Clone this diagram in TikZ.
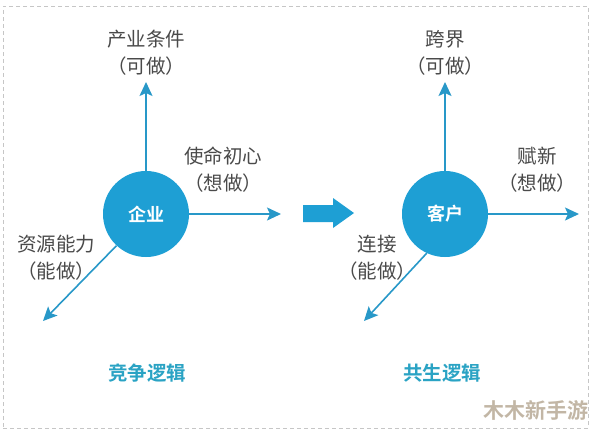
\documentclass[tikz,border=0pt]{standalone}
\usepackage{fontspec}
\setmainfont{Noto Sans CJK SC}
\newfontfamily\cjkb{Noto Sans CJK SC Bold}
\usetikzlibrary{arrows.meta}
\definecolor{hubblue}{HTML}{1E9FD4}
\definecolor{axisblue}{HTML}{2898C8}
\definecolor{labelgray}{HTML}{4A4A4A}
\definecolor{titleblue}{HTML}{2AA3C4}
\definecolor{wmark}{HTML}{B8AA96}
\tikzset{
  hub/.style={circle,fill=hubblue,minimum size=86pt,inner sep=0pt,text=white,font=\cjkb\fontsize{18}{18}\selectfont},
  axis/.style={draw=axisblue,line width=1.6pt,-{Stealth[length=14pt,width=13pt,inset=3pt]}},
  lbl/.style={text=labelgray,font=\fontsize{19.5}{27}\selectfont,align=center,inner sep=0pt},
  ttl/.style={text=titleblue,font=\cjkb\fontsize{19.5}{19.5}\selectfont,inner sep=0pt},
  frame/.style={draw=gray!45,line width=1pt,dash pattern=on 4pt off 3pt},
  blockarrow/.style={fill=hubblue,draw=none}
}
\begin{document}
\begin{tikzpicture}[x=1pt,y=-1pt]
\useasboundingbox (0,0) rectangle (594,432);
\fill[white] (0,0) rectangle (594,432);
\node[frame,minimum width=585pt,minimum height=422pt,inner sep=0pt] (border) at (295.5,217) {};

% left
\node[hub] (qiye) at (146,214) {企业};
\coordinate (q-up) at (146,82);
\coordinate (q-right) at (281,214);
\coordinate (q-dl) at (43,321);
\draw[axis] (qiye.north) -- (q-up);
\draw[axis] (qiye.east) -- (q-right);
\draw[axis] (qiye.-133) -- (q-dl);
\node[lbl] (l1) at (146,53) {产业条件\\（可做）};
\node[lbl] (l2) at (223,170) {使命初心\\（想做）};
\node[lbl] (l3) at (56,258) {资源能力\\（能做）};
\node[ttl] (t1) at (147,373) {竞争逻辑};

% middle block arrow
\path[blockarrow] (303,205) -- (333,205) -- (333,198) -- (354,213) -- (333,228) -- (333,222) -- (303,222) -- cycle;

% right
\node[hub] (kehu) at (445,214) {客户};
\coordinate (k-up) at (445,82);
\coordinate (k-right) at (579,214);
\coordinate (k-dl) at (364,321);
\draw[axis] (kehu.north) -- (k-up);
\draw[axis] (kehu.east) -- (k-right);
\draw[axis] (kehu.-115) -- (k-dl);
\node[lbl] (r1) at (445,53) {跨界\\（可做）};
\node[lbl] (r2) at (537,170) {赋新\\（想做）};
\node[lbl] (r3) at (377,258) {连接\\（能做）};
\node[ttl] (t2) at (442,373) {共生逻辑};

\node[text=wmark,font=\cjkb\fontsize{21}{21}\selectfont,inner sep=0pt,opacity=0.85] (wm) at (536,410) {木木新手游};
\end{tikzpicture}
\end{document}
